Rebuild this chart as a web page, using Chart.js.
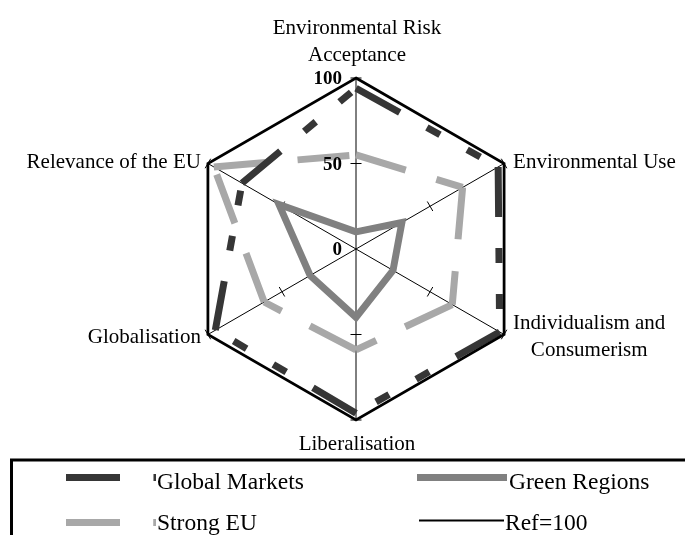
<!DOCTYPE html>
<html>
<head>
<meta charset="utf-8">
<script src="https://cdn.jsdelivr.net/npm/chart.js@4.4.1/dist/chart.umd.min.js"></script>
<style>
  html, body { margin: 0; padding: 0; background: #fff; }
  #wrap { position: relative; width: 685px; height: 535px; }
</style>
</head>
<body>
<div id="wrap"><canvas id="radar" width="685" height="535"></canvas></div>
<script>
// Axes of the scenario profile (clockwise from the top)
const categories = [
  ['Environmental Risk', 'Acceptance'],
  'Environmental Use',
  ['Individualism and', 'Consumerism'],
  'Liberalisation',
  'Globalisation',
  'Relevance of the EU'
];

// Scale ticks shown on the vertical axis
const tickValues = [0, 50, 100];

// Scenario scores per axis (0–100)
const globalMarkets = [94, 96, 97, 96, 95, 77];
const strongEU      = [55, 72, 65, 59, 62, 96];
const greenRegions  = [10, 31, 25, 40, 31, 52];
const ref100        = [100, 100, 100, 100, 100, 100];

const seriesNames = ['Global Markets', 'Green Regions', 'Strong EU', 'Ref=100'];

const SERIF = '"Liberation Serif", "Times New Roman", serif';

// A dashed series is drawn edge by edge so that every edge starts its dash pattern afresh.
function edgeDatasets(values, name, style) {
  const n = values.length;
  return values.map((_, i) => {
    const j = (i + 1) % n;
    const data = values.map((v, k) => (k === i || k === j) ? v : null);
    return Object.assign({ label: name, seriesName: name, data, fill: false, pointRadius: 0 }, style);
  });
}

const datasets = [
  { label: seriesNames[3], seriesName: seriesNames[3], data: ref100, borderColor: '#000000',
    borderWidth: 2.75, fill: false, pointRadius: 0, order: 0 },
  ...edgeDatasets(globalMarkets, seriesNames[0], {
    borderColor: '#363636', borderWidth: 7, borderDash: [50, 31, 15, 31, 15, 31], order: 1 }),
  { label: seriesNames[1], seriesName: seriesNames[1], data: greenRegions, borderColor: '#808080',
    borderWidth: 7, fill: false, pointRadius: 0, order: 2 },
  ...edgeDatasets(strongEU, seriesNames[2], {
    borderColor: '#a8a8a8', borderWidth: 7, borderDash: [52, 32], order: 3 })
];

// Tick marks across every spoke, bold value labels beside the vertical spoke,
// and the category names around the outside.
const axisDecor = {
  id: 'axisDecor',
  beforeDatasetsDraw(chart) {
    const s = chart.scales.r;
    const ctx = chart.ctx;
    const n = chart.data.labels.length;
    ctx.save();
    ctx.strokeStyle = '#000';
    ctx.lineWidth = 1;
    for (let i = 0; i < n; i++) {
      const a = s.getIndexAngle(i) - Math.PI / 2;
      const px = -Math.sin(a), py = Math.cos(a);
      tickValues.forEach(v => {
        if (v === s.min) return;
        const p = s.getPointPositionForValue(i, v);
        ctx.beginPath();
        ctx.moveTo(p.x - px * 5.5, p.y - py * 5.5);
        ctx.lineTo(p.x + px * 5.5, p.y + py * 5.5);
        ctx.stroke();
      });
    }
    ctx.restore();
  },
  afterDraw(chart) {
    const s = chart.scales.r;
    const ctx = chart.ctx;
    ctx.save();
    ctx.fillStyle = '#000';

    // value labels
    ctx.font = 'bold 19px ' + SERIF;
    ctx.textAlign = 'right';
    ctx.textBaseline = 'alphabetic';
    tickValues.forEach(v => {
      const p = s.getPointPositionForValue(0, v);
      ctx.fillText(String(v), p.x - 14, p.y + 6);
    });

    // category labels
    ctx.font = '21px ' + SERIF;
    const lh = 27.5;
    chart.data.labels.forEach((lab, i) => {
      const lines = Array.isArray(lab) ? lab : [lab];
      const p = s.getPointPositionForValue(i, s.max);
      const dx = p.x - s.xCenter;
      const w = Math.max(...lines.map(t => ctx.measureText(t).width));
      let x, align, firstBase;
      if (Math.abs(dx) < 1) {
        align = 'center';
        x = p.x + 1;
        firstBase = p.y < s.yCenter ? p.y - 17 - (lines.length - 1) * lh : p.y + 30;
      } else {
        const mid = p.y + (p.y < s.yCenter ? 4 : 8);
        firstBase = mid - (lines.length - 1) * lh / 2;
        if (dx > 0) {
          const left = p.x + 9;
          if (lines.length > 1) { align = 'center'; x = left + w / 2; } else { align = 'left'; x = left; }
        } else {
          const right = p.x - 7;
          if (lines.length > 1) { align = 'center'; x = right - w / 2; } else { align = 'right'; x = right; }
        }
      }
      ctx.textAlign = align;
      lines.forEach((t, k) => ctx.fillText(t, x, firstBase + k * lh));
    });
    ctx.restore();
  }
};

// Framed two-column legend below the chart
const legendBox = {
  id: 'legendBox',
  afterDraw(chart) {
    const ctx = chart.ctx;
    ctx.save();
    ctx.strokeStyle = '#000';
    ctx.lineWidth = 3;
    ctx.beginPath();
    ctx.moveTo(11.5, 540);
    ctx.lineTo(11.5, 460);
    ctx.lineTo(690, 460);
    ctx.stroke();

    const slots = [
      { name: seriesNames[0], x0: 66,  x1: 156, tx: 157, y: 477.5, base: 489 },
      { name: seriesNames[1], x0: 417, x1: 507, tx: 509, y: 477.5, base: 489 },
      { name: seriesNames[2], x0: 66,  x1: 156, tx: 157, y: 522.5, base: 530 },
      { name: seriesNames[3], x0: 419, x1: 504, tx: 505, y: 520.5, base: 530 }
    ];
    ctx.font = '23.5px ' + SERIF;
    ctx.textAlign = 'left';
    ctx.textBaseline = 'alphabetic';
    slots.forEach(sl => {
      const ds = chart.data.datasets.find(d => d.seriesName === sl.name);
      const dash = ds.borderDash || [];
      // legend samples show the pattern with a 54px leading dash
      const k = dash.length ? 54 / dash[0] : 1;
      ctx.strokeStyle = ds.borderColor;
      ctx.lineWidth = sl.name === seriesNames[3] ? 2 : ds.borderWidth;
      ctx.lineCap = 'butt';
      ctx.setLineDash(dash.map(d => d * k));
      ctx.beginPath();
      ctx.moveTo(sl.x0, sl.y);
      ctx.lineTo(sl.x1, sl.y);
      ctx.stroke();
      ctx.setLineDash([]);
      ctx.fillStyle = '#000';
      ctx.fillText(sl.name, sl.tx, sl.base);
    });
    ctx.restore();
  }
};

new Chart(document.getElementById('radar'), {
  type: 'radar',
  data: { labels: categories, datasets },
  options: {
    responsive: false,
    animation: false,
    events: [],
    layout: { padding: { top: 78, bottom: 115, left: 185, right: 158 } },
    plugins: { legend: { display: false }, tooltip: { enabled: false } },
    elements: {
      line: { tension: 0, borderJoinStyle: 'miter', borderCapStyle: 'butt' },
      point: { radius: 0, hoverRadius: 0 }
    },
    scales: {
      r: {
        min: 0,
        max: 100,
        ticks: { display: false, stepSize: 50 },
        grid: { display: false },
        angleLines: { display: true, color: '#000', lineWidth: 1 },
        pointLabels: { display: false }
      }
    }
  },
  plugins: [axisDecor, legendBox]
});
</script>
</body>
</html>
